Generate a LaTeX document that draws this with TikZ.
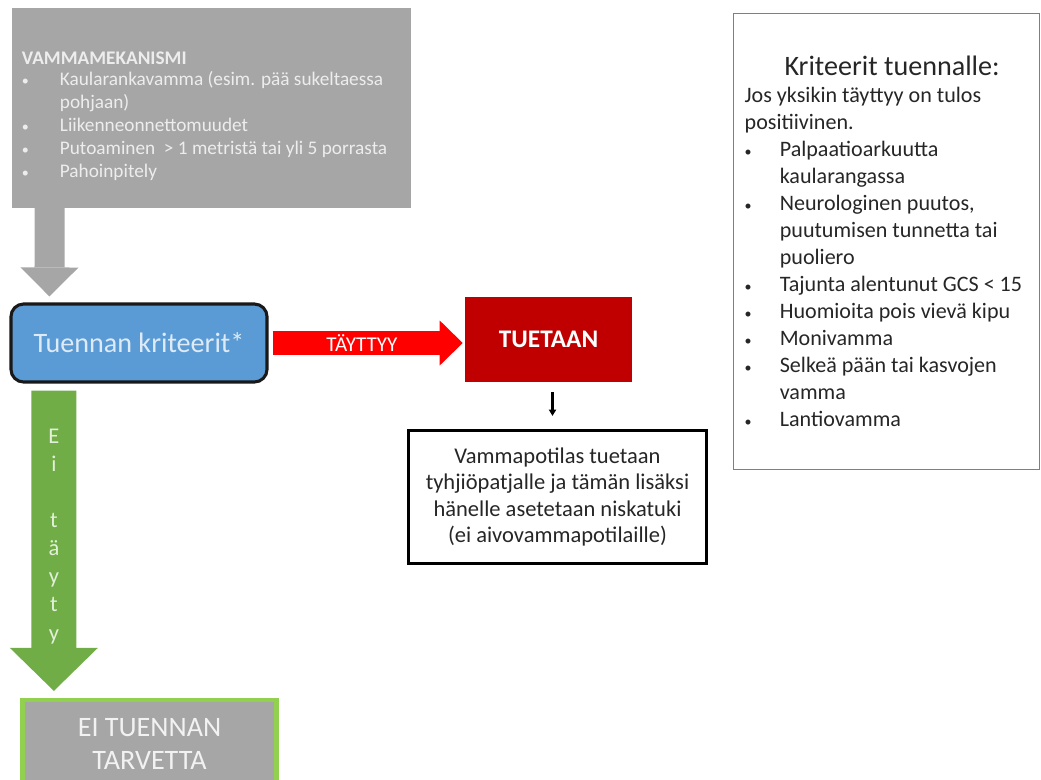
\documentclass[tikz,border=0pt]{standalone}
\usepackage{fontspec}
\setmainfont{Carlito}
\usetikzlibrary{arrows.meta,calc}
\definecolor{mechgray}{HTML}{A6A6A6}
\definecolor{mechtext}{HTML}{EDEDED}
\definecolor{critblue}{HTML}{5B9BD5}
\definecolor{crittext}{HTML}{DEEBF7}
\definecolor{tuered}{HTML}{C00000}
\definecolor{arrowred}{HTML}{FF0000}
\definecolor{gogreen}{HTML}{70AD47}
\definecolor{greentext}{HTML}{E2F0D9}
\definecolor{lightgreen}{HTML}{92D050}
\definecolor{kritgray}{HTML}{7F7F7F}
\newcommand{\itemdot}[1]{\makebox[#1][l]{\fontsize{10}{10}\selectfont•}}

\begin{document}
\begin{tikzpicture}[x=0.025cm,y=-0.025cm,
  mechbox/.style={fill=mechgray,draw=mechgray,minimum height=4.975cm,text width=9.45cm,text height=21.5pt,inner xsep=0.25cm,align=flush left,text=mechtext,font=\fontsize{13.7}{16.4}\selectfont},
  critbox/.style={fill=critblue,draw=black!90,line width=2.2pt,rounded corners=9pt,minimum width=6.4cm,minimum height=1.95cm,text=crittext,font=\fontsize{20}{24}\selectfont},
  tuebox/.style={fill=tuered,minimum width=4.175cm,minimum height=2.125cm,text=white,font=\fontsize{18}{22}\selectfont\bfseries},
  carebox/.style={draw=black,line width=2pt,fill=white,minimum width=7.45cm,minimum height=3.33cm,align=center,text=black!85,font=\fontsize{16}{18.7}\selectfont},
  kritbox/.style={draw=kritgray,line width=1.2pt,text width=7.09cm,inner xsep=0.28cm,minimum height=11.4cm,align=flush left,text=black!85,font=\fontsize{15.7}{19.2}\selectfont},
  nottbox/.style={fill=mechgray,draw=lightgreen,line width=3pt,minimum width=6.35cm,minimum height=2.2cm,align=center,text=white!95!black,font=\fontsize{20}{23.5}\selectfont},
  grayarrow/.style={draw=mechgray,line width=0.75cm,-{Triangle[width=1.45cm,length=0.725cm,line width=0pt]}},
  redarrow/.style={draw=arrowred,line width=0.6cm,-{Triangle[width=1.125cm,length=0.575cm,line width=0pt]}},
  greenarrow/.style={draw=gogreen,line width=1.125cm,-{Triangle[width=2.2cm,length=1.075cm,line width=0pt]}},
  blackarrow/.style={draw=black,line width=1.5pt,-{Triangle[width=5pt,length=4.5pt]}}]
\useasboundingbox (0,0) rectangle (1041,779);
\clip (0,0) rectangle (1041,779);
\node[mechbox] (mech) at (211,107.5) {\textbf{VAMMAMEKANISMI}\\[-2pt]%
\itemdot{27pt}Kaularankavamma (esim. pää sukeltaessa\\
\hspace*{27pt}pohjaan)\\
\itemdot{27pt}Liikenneonnettomuudet\\
\itemdot{27pt}Putoaminen~ > 1 metristä tai yli 5 porrasta\\
\itemdot{27pt}Pahoinpitely};
\node[critbox] (crit) at (139,343) {Tuennan kriteerit*};
\node[tuebox] (tue) at (548.5,339.5) {TUETAAN};
\node[carebox] (care) at (557.5,497) {Vammapotilas tuetaan\\tyhjiöpatjalle ja tämän lisäksi\\hänelle asetetaan niskatuki\\(ei aivovammapotilaille)};
\node[kritbox] (krit) at (886.5,241.5) {{\fontsize{20}{24}\selectfont\centering\hspace*{8pt}Kriteerit tuennalle:\par}
Jos yksikin täyttyy on tulos\\
positiivinen.\\
\itemdot{25pt}Palpaatioarkuutta\\
\hspace*{25pt}kaularangassa\\
\itemdot{25pt}Neurologinen puutos,\\
\hspace*{25pt}puutumisen tunnetta tai\\
\hspace*{25pt}puoliero\\
\itemdot{25pt}Tajunta alentunut GCS < 15\\
\itemdot{25pt}Huomioita pois vievä kipu\\
\itemdot{25pt}Monivamma\\
\itemdot{25pt}Selkeä pään tai kasvojen\\
\hspace*{25pt}vamma\\
\itemdot{25pt}Lantiovamma};
\node[nottbox] (nott) at (149.5,744) {EI TUENNAN\\TARVETTA};
\draw[grayarrow] ($(mech.south west)+(38,0)$) -- ($(crit.north west)+(40,-6)$);
\draw[redarrow] ($(crit.east)+(4,0)$) -- node[pos=0.47,text=white,font=\fontsize{15}{17}\selectfont] {TÄYTTYY} ($(crit.east -| tue.west)+(-2,0)$);
\draw[greenarrow] ($(crit.south west)+(44.5,7)$) -- node[pos=0.485,text=greentext,align=center,font=\fontsize{16}{20}\selectfont] {E\\i\\~\\t\\ä\\y\\t\\y} ($(nott.north west)+(33.5,-7)$);
\draw[blackarrow] ($(tue.south)+(4,10)$) -- ($(care.north)+(-5,-13)$);
\end{tikzpicture}
\end{document}
